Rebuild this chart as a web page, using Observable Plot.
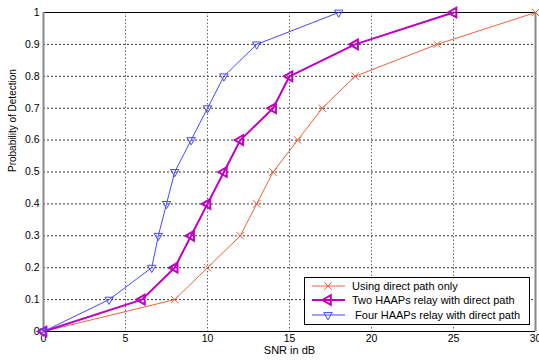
<!DOCTYPE html>
<html><head><meta charset="utf-8">
<script src="https://cdn.jsdelivr.net/npm/d3@7"></script>
<script src="https://cdn.jsdelivr.net/npm/@observablehq/plot@0.6"></script>
<style>
body{margin:0;background:#fff}
svg{font-family:"Liberation Sans",Arial,sans-serif}
</style>
</head><body><div id="chart"></div>
<script>
// Data
const directSNR = [0, 8, 10, 12, 13, 14, 15.5, 17, 19, 24, 30];
const directPd  = [0, 0.1, 0.2, 0.3, 0.4, 0.5, 0.6, 0.7, 0.8, 0.9, 1];
const twoSNR    = [0, 6, 8, 9, 10, 11, 12, 14, 15, 19, 25];
const twoPd     = [0, 0.1, 0.2, 0.3, 0.4, 0.5, 0.6, 0.7, 0.8, 0.9, 1];
const fourSNR   = [0, 4, 6.6, 7, 7.5, 8, 9, 10, 11, 13, 18];
const fourPd    = [0, 0.1, 0.2, 0.3, 0.4, 0.5, 0.6, 0.7, 0.8, 0.9, 1];

const xTicks = [0, 5, 10, 15, 20, 25, 30];
const yTicks = [0, 0.1, 0.2, 0.3, 0.4, 0.5, 0.6, 0.7, 0.8, 0.9, 1];
const yTickLabels = ["0", "0.1", "0.2", "0.3", "0.4", "0.5", "0.6", "0.7", "0.8", "0.9", "1"];
const seriesNames = ["Using direct path only", "Two HAAPs relay with direct path", " Four HAAPs relay with direct path"];
const colors = ["#f0603c", "#c000c0", "#4646ff"];

const direct = directSNR.map((x, i) => ({x, y: directPd[i]}));
const two = twoSNR.map((x, i) => ({x, y: twoPd[i]}));
const four = fourSNR.map((x, i) => ({x, y: fourPd[i]}));

const plot = Plot.plot({
  width: 539, height: 360,
  marginLeft: 43, marginRight: 4, marginTop: 12, marginBottom: 29,
  style: {fontSize: "10.5px", fontFamily: "'Liberation Sans', Arial, sans-serif", background: "white", color: "#000"},
  x: {domain: [0, 30], ticks: xTicks, tickSize: 0, tickPadding: 3, label: null},
  y: {domain: [0, 1], ticks: yTicks, tickSize: 0, tickPadding: 4, label: null,
      tickFormat: d => yTickLabels[yTicks.findIndex(t => Math.abs(t - d) < 1e-9)]},
  marks: [
    Plot.ruleY(yTicks.slice(1, -1), {stroke: "#333", strokeDasharray: "2,2", strokeWidth: 1}),
    Plot.ruleX(xTicks.slice(1, -1), {stroke: "#666", strokeDasharray: "1.5,2", strokeWidth: 1}),
    Plot.ruleY([0, 1], {stroke: "#000", strokeWidth: 1}),
    Plot.ruleX([0, 30], {stroke: "#888", strokeWidth: 2}),
    Plot.line(direct, {x: "x", y: "y", stroke: colors[0], strokeWidth: 1}),
    Plot.dot(direct, {x: "x", y: "y", symbol: "times", stroke: colors[0], r: 3.5, strokeWidth: 1}),
    Plot.line(two, {x: "x", y: "y", stroke: colors[1], strokeWidth: 2}),
    Plot.dot(two, {x: "x", y: "y", symbol: "triangle", rotate: -90, stroke: colors[1], fill: "none", r: 3.6, strokeWidth: 2}),
    Plot.line(four, {x: "x", y: "y", stroke: colors[2], strokeWidth: 1}),
    Plot.dot(four, {x: "x", y: "y", symbol: "triangle", rotate: 180, stroke: colors[2], fill: "none", r: 3.1, strokeWidth: 1}),
    Plot.text(["SNR in dB"], {frameAnchor: "bottom", dy: 22.5, fontSize: 11}),
    Plot.text(["Probability of Detection"], {frameAnchor: "left", dx: -31, rotate: -90, fontSize: 10})
  ]
});

// Legend (box in the lower right of the plot area)
const svg = d3.select(plot);
const lg = svg.append("g").attr("text-anchor", "start");
lg.append("rect").attr("x", 304.5).attr("y", 277.5).attr("width", 225).attr("height", 47)
  .attr("fill", "white").attr("stroke", "#000").attr("stroke-width", 1);
const rowY = [286, 300, 315];
const markerTypes = [
  {sym: d3.symbolTimes, rot: 0, r: 3.5, sw: 1},
  {sym: d3.symbolTriangle, rot: -90, r: 3.6, sw: 2},
  {sym: d3.symbolTriangle, rot: 180, r: 3.1, sw: 1}
];
const lineW = [1, 2, 1];
seriesNames.forEach((name, i) => {
  lg.append("line").attr("x1", 312).attr("x2", 345).attr("y1", rowY[i]).attr("y2", rowY[i])
    .attr("stroke", colors[i]).attr("stroke-width", lineW[i]);
  const m = markerTypes[i];
  lg.append("path").attr("d", d3.symbol(m.sym, Math.PI * m.r * m.r)())
    .attr("transform", `translate(328,${rowY[i]}) rotate(${m.rot})`)
    .attr("fill", "none").attr("stroke", colors[i]).attr("stroke-width", m.sw);
  lg.append("text").attr("x", 352).attr("y", rowY[i]).attr("dy", "0.35em")
    .attr("text-anchor", "start")
    .attr("font-size", 11).attr("fill", "#000").style("white-space", "pre").text(name);
});

document.getElementById("chart").appendChild(plot);
</script>
</body></html>
